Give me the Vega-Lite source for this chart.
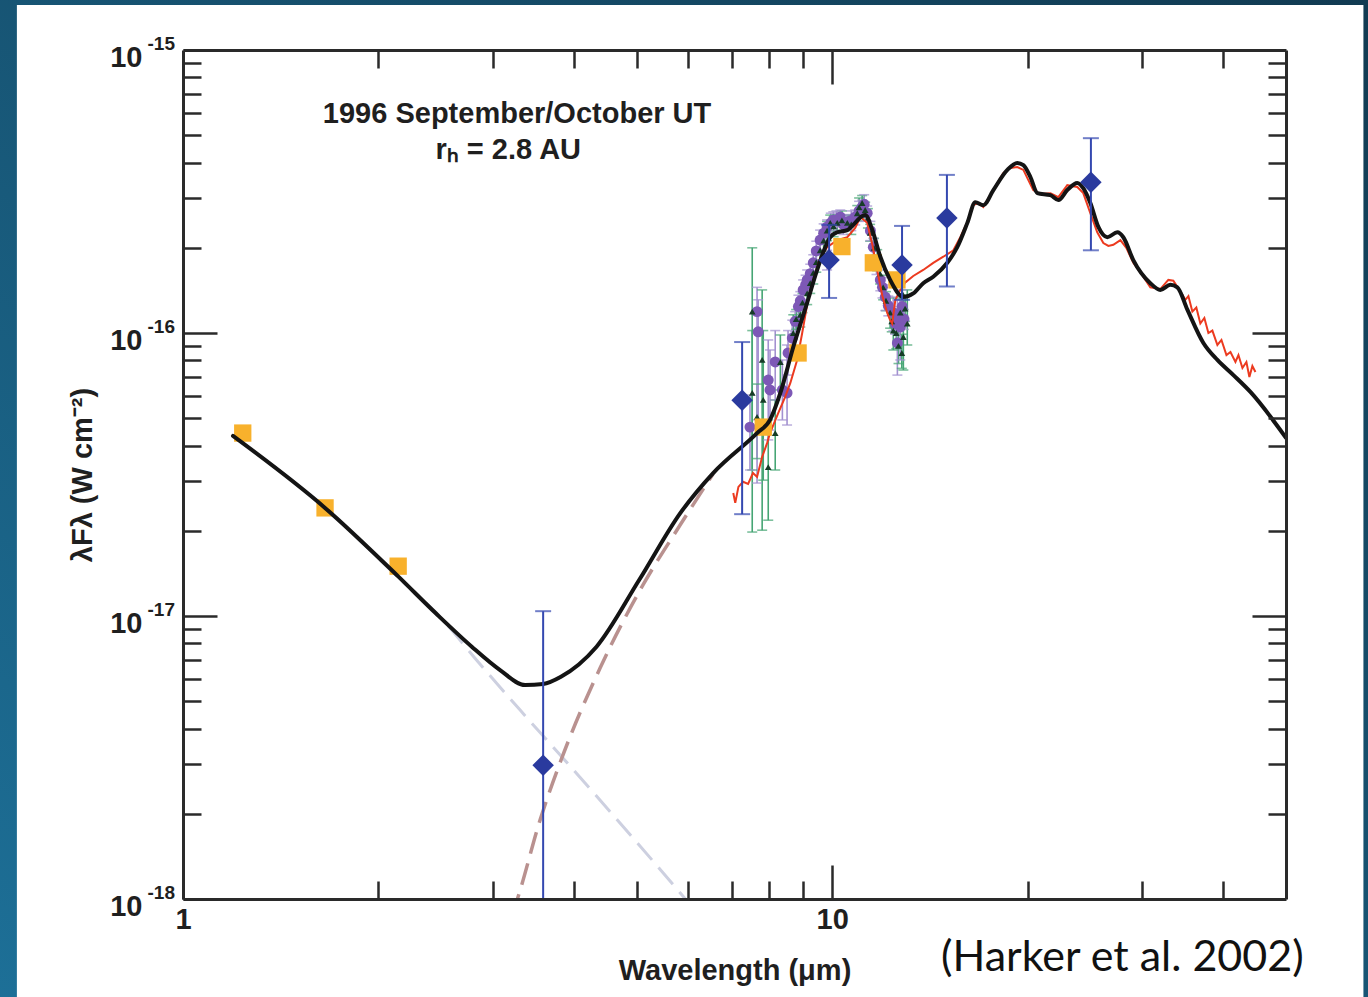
{
  "$schema": "https://vega.github.io/schema/vega-lite/v6.json",
  "width": 1103,
  "height": 849,
  "autosize": "none",
  "padding": {"left": 183, "top": 50, "right": 82, "bottom": 98},
  "background": "#15506e",
  "config": {
    "view": {"stroke": null},
    "axis": {
      "grid": false,
      "domainColor": "#2a2a2a", "domainWidth": 3,
      "tickColor": "#2a2a2a", "tickWidth": 2.5,
      "labelFont": "Liberation Sans", "labelFontWeight": "bold", "labelFontSize": 29, "labelColor": "#1f1f1f",
      "titleFont": "Liberation Sans", "titleFontWeight": "bold", "titleFontSize": 29, "titleColor": "#1f1f1f",
      "labelFlush": false, "labelOverlap": false, "labelBound": false
    }
  },
  "datasets": {
    "slide": [{"w": 0.5, "w2": 70, "f": 1.6e-15, "f2": 4e-19}],
    "panel": [{"w": 0.5548, "w2": 65.8, "f": 1.442e-15, "f2": 4e-19}],
    "model": [
      {"w": 1.194, "f": 4.33e-17}, {"w": 1.655, "f": 2.41e-17}, {"w": 2.145, "f": 1.38e-17}, {"w": 2.454, "f": 1.02e-17},
      {"w": 2.785, "f": 7.79e-18}, {"w": 3.079, "f": 6.44e-18}, {"w": 3.365, "f": 5.70e-18}, {"w": 3.587, "f": 5.75e-18},
      {"w": 3.821, "f": 6.10e-18}, {"w": 4.335, "f": 7.79e-18}, {"w": 5.042, "f": 1.34e-17}, {"w": 5.834, "f": 2.31e-17},
      {"w": 6.556, "f": 3.20e-17}, {"w": 7.66, "f": 4.43e-17}, {"w": 8.02, "f": 4.93e-17}, {"w": 8.32, "f": 6.14e-17},
      {"w": 8.71, "f": 8.92e-17}, {"w": 9.15, "f": 1.28e-16}, {"w": 9.48, "f": 1.67e-16}, {"w": 9.93, "f": 2.18e-16},
      {"w": 10.18, "f": 2.27e-16}, {"w": 10.55, "f": 2.31e-16}, {"w": 11.24, "f": 2.61e-16}, {"w": 11.53, "f": 2.31e-16},
      {"w": 11.86, "f": 1.86e-16}, {"w": 12.28, "f": 1.54e-16}, {"w": 12.87, "f": 1.34e-16}, {"w": 13.33, "f": 1.38e-16},
      {"w": 13.81, "f": 1.50e-16}, {"w": 14.31, "f": 1.58e-16}, {"w": 15.04, "f": 1.77e-16}, {"w": 15.58, "f": 2.01e-16},
      {"w": 16.15, "f": 2.45e-16}, {"w": 16.61, "f": 2.90e-16}, {"w": 17.09, "f": 2.83e-16}, {"w": 17.71, "f": 3.20e-16},
      {"w": 18.61, "f": 3.77e-16}, {"w": 19.28, "f": 3.99e-16}, {"w": 19.70, "f": 3.92e-16}, {"w": 20.19, "f": 3.56e-16},
      {"w": 20.70, "f": 3.12e-16}, {"w": 21.68, "f": 3.07e-16}, {"w": 22.30, "f": 2.95e-16}, {"w": 23.02, "f": 3.20e-16},
      {"w": 23.85, "f": 3.39e-16}, {"w": 24.36, "f": 3.25e-16}, {"w": 24.98, "f": 2.88e-16}, {"w": 25.70, "f": 2.37e-16},
      {"w": 26.53, "f": 2.18e-16}, {"w": 27.49, "f": 2.27e-16}, {"w": 28.08, "f": 2.18e-16}, {"w": 29.09, "f": 1.81e-16},
      {"w": 30.90, "f": 1.50e-16}, {"w": 32.02, "f": 1.42e-16}, {"w": 33.18, "f": 1.48e-16}, {"w": 34.01, "f": 1.45e-16},
      {"w": 35.24, "f": 1.21e-16}, {"w": 37.30, "f": 9.22e-17}, {"w": 39.20, "f": 8.03e-17}, {"w": 41.49, "f": 7.10e-17},
      {"w": 44.07, "f": 6.19e-17}, {"w": 50, "f": 4.26e-17}
    ],
    "scattered": [
      {"w": 1.194, "f": 4.33e-17}, {"w": 1.655, "f": 2.41e-17}, {"w": 2.145, "f": 1.37e-17}, {"w": 2.489, "f": 9.92e-18},
      {"w": 2.858, "f": 6.82e-18}, {"w": 3.306, "f": 4.65e-18}, {"w": 3.823, "f": 3.20e-18}, {"w": 4.615, "f": 1.96e-18},
      {"w": 5.834, "f": 1.05e-18}, {"w": 6.085, "f": 9.37e-19}
    ],
    "thermal": [
      {"w": 3.213, "f": 8.78e-19}, {"w": 3.283, "f": 1.02e-18}, {"w": 3.548, "f": 1.90e-18}, {"w": 3.823, "f": 3.10e-18},
      {"w": 4.390, "f": 6.55e-18}, {"w": 5.114, "f": 1.29e-17}, {"w": 5.834, "f": 2.10e-17}, {"w": 6.556, "f": 3.18e-17}
    ],
    "spectrum": [
      {"w": 7.04, "f": 2.72e-17}, {"w": 7.09, "f": 2.51e-17}, {"w": 7.17, "f": 2.86e-17}, {"w": 7.29, "f": 2.98e-17},
      {"w": 7.42, "f": 2.93e-17}, {"w": 7.55, "f": 3.20e-17}, {"w": 7.66, "f": 3.10e-17}, {"w": 7.80, "f": 3.65e-17},
      {"w": 7.94, "f": 4.09e-17}, {"w": 8.02, "f": 4.43e-17}, {"w": 8.26, "f": 5.22e-17}, {"w": 8.46, "f": 5.94e-17},
      {"w": 8.62, "f": 6.66e-17}, {"w": 8.83, "f": 8.03e-17}, {"w": 8.99, "f": 1.0e-16}, {"w": 9.15, "f": 1.26e-16},
      {"w": 9.35, "f": 1.54e-16}, {"w": 9.58, "f": 1.84e-16}, {"w": 9.82, "f": 2.01e-16}, {"w": 10.18, "f": 2.13e-16},
      {"w": 10.55, "f": 2.18e-16}, {"w": 10.85, "f": 2.35e-16}, {"w": 11.05, "f": 2.57e-16}, {"w": 11.32, "f": 2.45e-16},
      {"w": 11.53, "f": 2.05e-16}, {"w": 11.73, "f": 1.67e-16}, {"w": 11.94, "f": 1.36e-16}, {"w": 12.15, "f": 1.18e-16},
      {"w": 12.28, "f": 1.11e-16}, {"w": 12.37, "f": 1.08e-16}, {"w": 12.51, "f": 1.31e-16}, {"w": 12.73, "f": 1.42e-16},
      {"w": 12.96, "f": 1.51e-16}, {"w": 13.33, "f": 1.59e-16}, {"w": 13.81, "f": 1.67e-16}, {"w": 14.31, "f": 1.77e-16},
      {"w": 14.83, "f": 1.86e-16}, {"w": 15.37, "f": 1.96e-16}, {"w": 15.75, "f": 2.18e-16}, {"w": 16.15, "f": 2.47e-16},
      {"w": 16.49, "f": 2.83e-16}, {"w": 16.79, "f": 2.88e-16}, {"w": 17.09, "f": 2.79e-16}, {"w": 17.71, "f": 3.20e-16},
      {"w": 18.34, "f": 3.67e-16}, {"w": 18.81, "f": 3.83e-16}, {"w": 19.28, "f": 3.86e-16}, {"w": 19.70, "f": 3.77e-16},
      {"w": 20.05, "f": 3.47e-16}, {"w": 20.40, "f": 3.20e-16}, {"w": 20.92, "f": 3.10e-16}, {"w": 21.68, "f": 3.12e-16},
      {"w": 22.30, "f": 3.02e-16}, {"w": 23.02, "f": 3.33e-16}, {"w": 23.85, "f": 3.28e-16}, {"w": 24.36, "f": 3.12e-16},
      {"w": 24.98, "f": 2.65e-16}, {"w": 25.60, "f": 2.27e-16}, {"w": 26.16, "f": 2.08e-16}, {"w": 26.63, "f": 2.03e-16},
      {"w": 27.10, "f": 2.05e-16}, {"w": 27.79, "f": 2.13e-16}, {"w": 28.38, "f": 2.00e-16}, {"w": 29.09, "f": 1.77e-16},
      {"w": 30.04, "f": 1.60e-16}, {"w": 30.90, "f": 1.45e-16}, {"w": 32.02, "f": 1.43e-16}, {"w": 32.94, "f": 1.54e-16},
      {"w": 33.53, "f": 1.53e-16}, {"w": 34.38, "f": 1.40e-16}, {"w": 34.99, "f": 1.31e-16}, {"w": 35.37, "f": 1.35e-16},
      {"w": 35.87, "f": 1.19e-16}, {"w": 36.38, "f": 1.23e-16}, {"w": 36.90, "f": 1.08e-16}, {"w": 37.43, "f": 1.13e-16},
      {"w": 37.97, "f": 1.00e-16}, {"w": 38.51, "f": 1.02e-16}, {"w": 39.20, "f": 9.07e-17}, {"w": 39.77, "f": 9.45e-17},
      {"w": 40.48, "f": 8.36e-17}, {"w": 41.06, "f": 8.57e-17}, {"w": 41.79, "f": 7.90e-17}, {"w": 42.24, "f": 8.36e-17},
      {"w": 42.84, "f": 7.52e-17}, {"w": 43.45, "f": 7.90e-17}, {"w": 43.91, "f": 6.99e-17}, {"w": 44.38, "f": 7.64e-17},
      {"w": 44.86, "f": 7.28e-17}
    ],
    "circles": [
      {"w": 7.47, "f": 4.65e-17, "lo": 3.28e-17, "hi": 6.04e-17}, {"w": 7.66, "f": 1.19e-16, "lo": 2.95e-17, "hi": 1.45e-16},
      {"w": 7.69, "f": 1.01e-16, "lo": 4.93e-17, "hi": 1.31e-16}, {"w": 7.97, "f": 6.82e-17, "lo": 4.19e-17, "hi": 9.45e-17},
      {"w": 8.02, "f": 6.29e-17, "lo": 4.54e-17, "hi": 8.71e-17}, {"w": 8.17, "f": 7.90e-17, "lo": 5.80e-17, "hi": 1.02e-16},
      {"w": 8.38, "f": 6.29e-17, "lo": 4.93e-17, "hi": 8.03e-17}, {"w": 8.52, "f": 6.14e-17, "lo": 4.73e-17, "hi": 9.07e-17},
      {"w": 8.55, "f": 8.50e-17, "lo": 7.10e-17, "hi": 1.02e-16}, {"w": 8.68, "f": 9.60e-17, "lo": 8.36e-17, "hi": 1.11e-16},
      {"w": 8.77, "f": 1.10e-16, "lo": 1.01e-16, "hi": 1.19e-16}, {"w": 8.87, "f": 1.24e-16, "lo": 1.11e-16, "hi": 1.36e-16},
      {"w": 8.93, "f": 1.30e-16, "lo": 1.20e-16, "hi": 1.40e-16}, {"w": 9.02, "f": 1.42e-16, "lo": 1.31e-16, "hi": 1.54e-16},
      {"w": 9.10, "f": 1.48e-16, "lo": 1.36e-16, "hi": 1.60e-16}, {"w": 9.15, "f": 1.54e-16, "lo": 1.42e-16, "hi": 1.67e-16},
      {"w": 9.25, "f": 1.62e-16, "lo": 1.49e-16, "hi": 1.75e-16}, {"w": 9.35, "f": 1.77e-16, "lo": 1.63e-16, "hi": 1.89e-16},
      {"w": 9.45, "f": 1.95e-16, "lo": 1.79e-16, "hi": 2.11e-16}, {"w": 9.58, "f": 2.13e-16, "lo": 1.96e-16, "hi": 2.31e-16},
      {"w": 9.70, "f": 2.25e-16, "lo": 2.07e-16, "hi": 2.43e-16}, {"w": 9.82, "f": 2.37e-16, "lo": 2.22e-16, "hi": 2.51e-16},
      {"w": 9.82, "f": 1.81e-16, "lo": 1.67e-16, "hi": 1.96e-16}, {"w": 9.95, "f": 2.45e-16, "lo": 2.25e-16, "hi": 2.65e-16},
      {"w": 10.04, "f": 2.51e-16, "lo": 2.37e-16, "hi": 2.68e-16}, {"w": 10.15, "f": 2.50e-16, "lo": 2.30e-16, "hi": 2.70e-16},
      {"w": 10.29, "f": 2.57e-16, "lo": 2.41e-16, "hi": 2.72e-16}, {"w": 10.40, "f": 2.42e-16, "lo": 2.23e-16, "hi": 2.61e-16},
      {"w": 10.55, "f": 2.47e-16, "lo": 2.31e-16, "hi": 2.62e-16}, {"w": 10.70, "f": 2.50e-16, "lo": 2.30e-16, "hi": 2.70e-16},
      {"w": 10.85, "f": 2.57e-16, "lo": 2.41e-16, "hi": 2.72e-16}, {"w": 11.00, "f": 2.70e-16, "lo": 2.48e-16, "hi": 2.92e-16},
      {"w": 11.12, "f": 2.79e-16, "lo": 2.62e-16, "hi": 2.95e-16}, {"w": 11.20, "f": 2.85e-16, "lo": 2.62e-16, "hi": 3.08e-16},
      {"w": 11.32, "f": 2.65e-16, "lo": 2.49e-16, "hi": 2.81e-16}, {"w": 11.45, "f": 2.30e-16, "lo": 2.12e-16, "hi": 2.48e-16},
      {"w": 11.57, "f": 2.01e-16, "lo": 1.86e-16, "hi": 2.16e-16}, {"w": 11.70, "f": 1.75e-16, "lo": 1.61e-16, "hi": 1.89e-16},
      {"w": 11.86, "f": 1.54e-16, "lo": 1.41e-16, "hi": 1.67e-16}, {"w": 11.95, "f": 1.45e-16, "lo": 1.33e-16, "hi": 1.57e-16},
      {"w": 12.07, "f": 1.34e-16, "lo": 1.20e-16, "hi": 1.48e-16}, {"w": 12.20, "f": 1.25e-16, "lo": 1.15e-16, "hi": 1.35e-16},
      {"w": 12.42, "f": 1.18e-16, "lo": 1.02e-16, "hi": 1.34e-16}, {"w": 12.50, "f": 1.08e-16, "lo": 9.9e-17, "hi": 1.17e-16},
      {"w": 12.60, "f": 9.22e-17, "lo": 7.10e-17, "hi": 1.31e-16}, {"w": 12.65, "f": 1.15e-16, "lo": 1.06e-16, "hi": 1.24e-16},
      {"w": 12.73, "f": 1.05e-16, "lo": 8.03e-17, "hi": 1.31e-16}, {"w": 12.82, "f": 1.24e-16, "lo": 1.05e-16, "hi": 1.42e-16},
      {"w": 12.90, "f": 1.12e-16, "lo": 1.03e-16, "hi": 1.21e-16}
    ],
    "triangles": [
      {"w": 7.53, "f": 1.19e-16, "lo": 1.98e-17, "hi": 2.00e-16}, {"w": 7.53, "f": 6.14e-17, "lo": 3.28e-17, "hi": 1.02e-16},
      {"w": 7.80, "f": 8.03e-17, "lo": 2.01e-17, "hi": 1.42e-16}, {"w": 7.83, "f": 5.80e-17, "lo": 3.02e-17, "hi": 1.02e-16},
      {"w": 7.66, "f": 5.05e-17, "lo": 3.60e-17, "hi": 6.60e-17}, {"w": 7.97, "f": 3.36e-17, "lo": 2.18e-17, "hi": 4.93e-17},
      {"w": 8.17, "f": 4.43e-17, "lo": 3.28e-17, "hi": 5.80e-17}, {"w": 8.32, "f": 7.90e-17, "lo": 6.29e-17, "hi": 9.84e-17},
      {"w": 8.71, "f": 1.00e-16, "lo": 8.71e-17, "hi": 1.16e-16}, {"w": 8.80, "f": 1.12e-16, "lo": 1.03e-16, "hi": 1.21e-16},
      {"w": 8.93, "f": 1.16e-16, "lo": 1.05e-16, "hi": 1.28e-16}, {"w": 9.00, "f": 1.28e-16, "lo": 1.18e-16, "hi": 1.38e-16},
      {"w": 9.15, "f": 1.38e-16, "lo": 1.26e-16, "hi": 1.51e-16}, {"w": 9.25, "f": 1.50e-16, "lo": 1.38e-16, "hi": 1.62e-16},
      {"w": 9.35, "f": 1.63e-16, "lo": 1.49e-16, "hi": 1.77e-16}, {"w": 9.45, "f": 1.78e-16, "lo": 1.64e-16, "hi": 1.92e-16},
      {"w": 9.58, "f": 1.96e-16, "lo": 1.81e-16, "hi": 2.12e-16}, {"w": 9.70, "f": 2.12e-16, "lo": 1.95e-16, "hi": 2.29e-16},
      {"w": 9.82, "f": 2.30e-16, "lo": 2.12e-16, "hi": 2.48e-16}, {"w": 9.93, "f": 2.45e-16, "lo": 2.30e-16, "hi": 2.61e-16},
      {"w": 10.05, "f": 2.38e-16, "lo": 2.19e-16, "hi": 2.57e-16}, {"w": 10.18, "f": 2.45e-16, "lo": 2.30e-16, "hi": 2.61e-16},
      {"w": 10.35, "f": 2.50e-16, "lo": 2.30e-16, "hi": 2.70e-16}, {"w": 10.55, "f": 2.45e-16, "lo": 2.30e-16, "hi": 2.61e-16},
      {"w": 10.70, "f": 2.42e-16, "lo": 2.23e-16, "hi": 2.61e-16}, {"w": 10.93, "f": 2.65e-16, "lo": 2.49e-16, "hi": 2.82e-16},
      {"w": 11.00, "f": 2.78e-16, "lo": 2.56e-16, "hi": 3.00e-16}, {"w": 11.12, "f": 2.88e-16, "lo": 2.71e-16, "hi": 3.06e-16},
      {"w": 11.24, "f": 2.72e-16, "lo": 2.55e-16, "hi": 2.90e-16}, {"w": 11.35, "f": 2.55e-16, "lo": 2.35e-16, "hi": 2.75e-16},
      {"w": 11.44, "f": 2.26e-16, "lo": 2.11e-16, "hi": 2.42e-16}, {"w": 11.60, "f": 2.00e-16, "lo": 1.84e-16, "hi": 2.16e-16},
      {"w": 11.73, "f": 1.81e-16, "lo": 1.66e-16, "hi": 1.97e-16}, {"w": 11.85, "f": 1.62e-16, "lo": 1.49e-16, "hi": 1.75e-16},
      {"w": 11.98, "f": 1.45e-16, "lo": 1.31e-16, "hi": 1.60e-16}, {"w": 12.10, "f": 1.30e-16, "lo": 1.20e-16, "hi": 1.40e-16},
      {"w": 12.28, "f": 1.18e-16, "lo": 1.04e-16, "hi": 1.33e-16}, {"w": 12.35, "f": 1.10e-16, "lo": 1.01e-16, "hi": 1.19e-16},
      {"w": 12.42, "f": 1.02e-16, "lo": 8.71e-17, "hi": 1.21e-16}, {"w": 12.55, "f": 1.00e-16, "lo": 8.8e-17, "hi": 1.14e-16},
      {"w": 12.65, "f": 9.00e-17, "lo": 7.8e-17, "hi": 1.05e-16}, {"w": 12.73, "f": 1.18e-16, "lo": 1.04e-16, "hi": 1.33e-16},
      {"w": 12.80, "f": 8.50e-17, "lo": 7.5e-17, "hi": 9.9e-17}, {"w": 12.82, "f": 1.38e-16, "lo": 1.24e-16, "hi": 1.52e-16},
      {"w": 12.87, "f": 9.68e-17, "lo": 7.40e-17, "hi": 1.31e-16}, {"w": 12.95, "f": 1.22e-16, "lo": 1.10e-16, "hi": 1.36e-16},
      {"w": 13.05, "f": 1.08e-16, "lo": 9.07e-17, "hi": 1.42e-16}
    ],
    "squares": [
      {"w": 1.236, "f": 4.43e-17}, {"w": 1.655, "f": 2.41e-17}, {"w": 2.145, "f": 1.50e-17}, {"w": 7.83, "f": 4.65e-17},
      {"w": 8.86, "f": 8.50e-17}, {"w": 10.35, "f": 2.02e-16}, {"w": 11.57, "f": 1.77e-16}, {"w": 12.58, "f": 1.54e-16}
    ],
    "diamonds": [
      {"w": 3.587, "f": 2.97e-18, "lo": 5.0e-19, "hi": 1.04e-17},
      {"w": 7.265, "f": 5.79e-17, "lo": 2.29e-17, "hi": 9.29e-17},
      {"w": 9.89, "f": 1.81e-16, "lo": 1.33e-16, "hi": 2.41e-16},
      {"w": 12.81, "f": 1.74e-16, "lo": 1.31e-16, "hi": 2.39e-16},
      {"w": 15.02, "f": 2.55e-16, "lo": 1.46e-16, "hi": 3.62e-16},
      {"w": 25.03, "f": 3.41e-16, "lo": 1.96e-16, "hi": 4.88e-16}
    ],
    "exponents": [
      {"w": 1, "f": 1e-18, "e": "-18"}, {"w": 1, "f": 1e-17, "e": "-17"}, {"w": 1, "f": 1e-16, "e": "-16"}, {"w": 1, "f": 1e-15, "e": "-15"}
    ],
    "notes": [
      {"w": 3.27, "f": 5.94e-16, "t": "1996 September/October UT"},
      {"w": 3.17, "f": 4.43e-16, "t": "rₕ = 2.8 AU"}
    ],
    "source": [{"w": 27.98, "f": 6.19e-19, "t": "(Harker et al. 2002)"}]
  },
  "resolve": {"axis": {"x": "independent", "y": "independent"}},
  "encoding": {
    "x": {"field": "w", "type": "quantitative", "scale": {"type": "log", "domain": [1, 50], "nice": false}, "axis": null},
    "y": {"field": "f", "type": "quantitative", "scale": {"type": "log", "domain": [1e-18, 1e-15], "nice": false}, "axis": null}
  },
  "layer": [
    {
      "data": {"name": "slide"},
      "mark": {"type": "rect", "fill": {"gradient": "linear", "x1": 1, "y1": 0, "x2": 0, "y2": 1,
        "stops": [{"offset": 0, "color": "#113a51"}, {"offset": 1, "color": "#1d7098"}]}},
      "encoding": {"x2": {"field": "w2"}, "y2": {"field": "f2"}}
    },
    {
      "data": {"name": "panel"},
      "mark": {"type": "rect", "fill": "#ffffff"},
      "encoding": {"x2": {"field": "w2"}, "y2": {"field": "f2"}}
    },
    {
      "data": {"name": "scattered"},
      "mark": {"type": "line", "color": "#cdd0e0", "strokeWidth": 3, "strokeDash": [22, 10], "interpolate": "monotone", "clip": true},
      "encoding": {
        "x": {"field": "w", "type": "quantitative", "scale": {"type": "log", "domain": [1, 50], "nice": false},
          "axis": {"orient": "bottom", "zindex": 2, "values": [1, 10], "tickSize": -34, "labelExpr": "datum.value < 3 ? '1' : '10'",
            "labelPadding": 40, "title": "Wavelength (μm)", "titlePadding": 22}},
        "y": {"field": "f", "type": "quantitative", "scale": {"type": "log", "domain": [1e-18, 1e-15], "nice": false},
          "axis": {"orient": "left", "zindex": 2, "values": [1e-18, 1e-17, 1e-16, 1e-15], "tickSize": -34, "labelExpr": "'10'",
            "labelPadding": 75, "labelOffset": 7, "labelBaseline": "middle", "title": "λFλ (W cm⁻²)", "titlePadding": 12}}
      }
    },
    {
      "data": {"name": "thermal"},
      "mark": {"type": "line", "color": "#b9918f", "strokeWidth": 3.5, "strokeDash": [22, 10], "interpolate": "monotone", "clip": true},
      "encoding": {
        "x": {"field": "w", "type": "quantitative",
          "axis": {"orient": "bottom", "zindex": 2, "values": [2, 3, 4, 5, 6, 7, 8, 9, 20, 30, 40], "tickSize": -18, "labels": false, "domain": false, "title": null}},
        "y": {"field": "f", "type": "quantitative",
          "axis": {"orient": "left", "zindex": 2, "values": [2e-18, 3e-18, 4e-18, 5e-18, 6e-18, 7e-18, 8e-18, 9e-18, 2e-17, 3e-17, 4e-17, 5e-17, 6e-17, 7e-17, 8e-17, 9e-17, 2e-16, 3e-16, 4e-16, 5e-16, 6e-16, 7e-16, 8e-16, 9e-16],
            "tickSize": -18, "labels": false, "domain": false, "title": null}}
      }
    },
    {
      "data": {"name": "triangles"},
      "mark": {"type": "rule", "color": "#46a574", "strokeWidth": 1.6},
      "encoding": {
        "x": {"field": "w", "type": "quantitative",
          "axis": {"orient": "top", "zindex": 2, "values": [10], "tickSize": -34, "labels": false, "title": null}},
        "y": {"field": "lo", "type": "quantitative",
          "axis": {"orient": "right", "zindex": 2, "values": [1e-17, 1e-16], "tickSize": -34, "labels": false, "title": null}},
        "y2": {"field": "hi"}
      }
    },
    {
      "data": {"name": "circles"},
      "mark": {"type": "rule", "color": "#a391d0", "strokeWidth": 1.6},
      "encoding": {
        "x": {"field": "w", "type": "quantitative",
          "axis": {"orient": "top", "zindex": 2, "values": [2, 3, 4, 5, 6, 7, 8, 9, 20, 30, 40], "tickSize": -18, "labels": false, "domain": false, "title": null}},
        "y": {"field": "lo", "type": "quantitative",
          "axis": {"orient": "right", "zindex": 2, "values": [2e-18, 3e-18, 4e-18, 5e-18, 6e-18, 7e-18, 8e-18, 9e-18, 2e-17, 3e-17, 4e-17, 5e-17, 6e-17, 7e-17, 8e-17, 9e-17, 2e-16, 3e-16, 4e-16, 5e-16, 6e-16, 7e-16, 8e-16, 9e-16],
            "tickSize": -18, "labels": false, "domain": false, "title": null}},
        "y2": {"field": "hi"}
      }
    },
    {
      "data": {"name": "triangles"},
      "transform": [{"fold": ["lo", "hi"], "as": ["end", "v"]}],
      "mark": {"type": "tick", "orient": "horizontal", "color": "#46a574", "size": 10, "thickness": 1.6},
      "encoding": {"y": {"field": "v", "type": "quantitative", "axis": null}}
    },
    {
      "data": {"name": "circles"},
      "transform": [{"fold": ["lo", "hi"], "as": ["end", "v"]}],
      "mark": {"type": "tick", "orient": "horizontal", "color": "#a391d0", "size": 10, "thickness": 1.6},
      "encoding": {"y": {"field": "v", "type": "quantitative", "axis": null}}
    },
    {
      "data": {"name": "circles"},
      "mark": {"type": "point", "shape": "circle", "filled": true, "opacity": 1, "color": "#7d58b6", "size": 120}
    },
    {
      "data": {"name": "triangles"},
      "mark": {"type": "point", "shape": "triangle-up", "filled": true, "opacity": 1, "color": "#163c27", "size": 45}
    },
    {
      "data": {"name": "spectrum"},
      "mark": {"type": "line", "color": "#ec3a1f", "strokeWidth": 2}
    },
    {
      "data": {"name": "squares"},
      "mark": {"type": "point", "shape": "square", "filled": true, "opacity": 1, "color": "#f8b12c", "size": 300}
    },
    {
      "data": {"name": "model"},
      "mark": {"type": "line", "color": "#141414", "strokeWidth": 4, "interpolate": "monotone", "strokeJoin": "round", "strokeCap": "round"}
    },
    {
      "data": {"name": "diamonds"},
      "mark": {"type": "rule", "color": "#3448b0", "strokeWidth": 2, "clip": true},
      "encoding": {"y": {"field": "lo", "type": "quantitative", "axis": null}, "y2": {"field": "hi"}}
    },
    {
      "data": {"name": "diamonds"},
      "transform": [{"fold": ["lo", "hi"], "as": ["end", "v"]}],
      "mark": {"type": "tick", "orient": "horizontal", "color": "#3448b0", "size": 16, "thickness": 2, "clip": true},
      "encoding": {"y": {"field": "v", "type": "quantitative", "axis": null}}
    },
    {
      "data": {"name": "diamonds"},
      "mark": {"type": "point", "shape": "diamond", "filled": true, "opacity": 1, "color": "#2a3a9e", "size": 460}
    },
    {
      "data": {"name": "exponents"},
      "mark": {"type": "text", "align": "right", "baseline": "alphabetic", "dx": -8, "font": "Liberation Sans", "fontWeight": "bold", "fontSize": 19, "color": "#1f1f1f"},
      "encoding": {"text": {"field": "e"}}
    },
    {
      "data": {"name": "notes"},
      "mark": {"type": "text", "align": "center", "baseline": "middle", "font": "Liberation Sans", "fontWeight": "bold", "fontSize": 29, "color": "#1f1f1f"},
      "encoding": {"text": {"field": "t"}}
    },
    {
      "data": {"name": "source"},
      "mark": {"type": "text", "align": "center", "baseline": "middle", "font": "Lato", "fontSize": 43, "color": "#111111"},
      "encoding": {"text": {"field": "t"}}
    }
  ]
}
